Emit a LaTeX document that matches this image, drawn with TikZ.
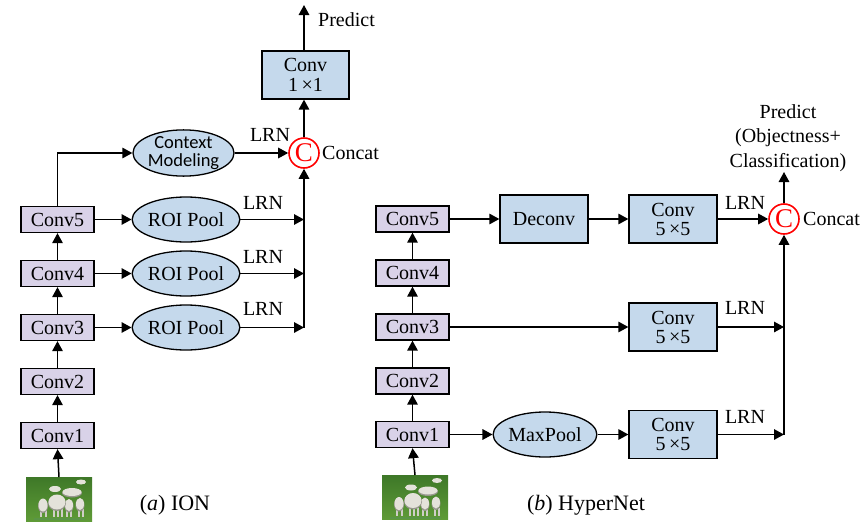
\documentclass[tikz,border=0pt]{standalone}
\usepackage{fontspec}
\setmainfont{Liberation Serif}
\newfontfamily\calfont{Carlito}
\usetikzlibrary{shapes.geometric,arrows.meta}
\definecolor{lav}{RGB}{217,210,232}
\definecolor{lblue}{RGB}{197,217,236}
\definecolor{grassA}{RGB}{62,120,40}
\definecolor{grassB}{RGB}{95,155,55}
\definecolor{wool}{RGB}{228,226,218}
\definecolor{woolshade}{RGB}{150,150,140}
\tikzset{
  sheepimg/.pic={
    \shade[top color=grassA, bottom color=grassB] (-33,-22) rectangle (33,22);
    % back sheep
    \fill[wool] (22,-17) ellipse (5 and 2.5);
    \fill[wool] (-4,-10) ellipse (6 and 3);
    \fill[woolshade] (13,-6) ellipse (10 and 4.5);
    \fill[wool] (13,-7) ellipse (9.5 and 4);
    % front sheep legs
    \foreach \lx in {-19,-14,-6,-2,2,7,11,19,23}
      \fill[wool!80!gray] (\lx,10) rectangle (\lx+1.5,18);
    \fill[woolshade] (-16,7) ellipse (5 and 7);
    \fill[wool] (-16,6) ellipse (4.5 and 6.5);
    \fill[woolshade] (21,6) ellipse (4.5 and 6.5);
    \fill[wool] (21,5) ellipse (4 and 6);
    \fill[woolshade] (10,7) ellipse (4.5 and 6.5);
    \fill[wool] (10,6) ellipse (4 and 6);
    \fill[woolshade] (-2,4) ellipse (9 and 8);
    \fill[wool] (-2,3) ellipse (8.5 and 7.5);
    \fill[black!25!green!30!gray, opacity=0.5] (-25,19) rectangle (26,21);
  }
}
\begin{document}
\begin{tikzpicture}[x=1pt,y=-1pt,
  every node/.style={font=\fontsize{20}{22}\selectfont},
  convbox/.style={draw=black, line width=1.3pt, fill=lav, minimum width=73pt, minimum height=26pt, inner sep=0pt},
  bluebox/.style={draw=black, line width=1.3pt, fill=lblue, minimum width=88pt, minimum height=48pt, align=center, inner sep=0pt, font=\fontsize{20}{19}\selectfont},
  pool/.style={ellipse, draw=black, line width=1.3pt, fill=lblue, minimum width=94pt, minimum height=45pt, inner sep=0pt},
  concat/.style={circle, draw=red, line width=1.6pt, minimum size=30pt, inner sep=0pt, text=red, font=\fontsize{27}{27}\selectfont},
  arr/.style={line width=1.5pt, -{Triangle[length=10pt,width=10.5pt]}},
  lbl/.style={inner sep=0pt},
  captext/.style={inner sep=0pt, font=\fontsize{22}{24}\selectfont}
]
\useasboundingbox (0,0) rectangle (865,530);

% ---------- (a) ION ----------
\node[convbox] (a1) at (57.5,435.5) {Conv1};
\node[convbox] (a2) at (57.5,381.5) {Conv2};
\node[convbox] (a3) at (57.5,327.5) {Conv3};
\node[convbox] (a4) at (57.5,273.5) {Conv4};
\node[convbox] (a5) at (57.5,219.5) {Conv5};
\pic at (59,499) {sheepimg};
\coordinate (img1) at (59,477);

\node[pool] (r5) at (186,219.5) {ROI Pool};
\node[pool] (r4) at (186,273.5) {ROI Pool};
\node[pool] (r3) at (186,327.5) {ROI Pool};
\node[pool, minimum width=93pt, minimum height=41pt, align=center,
      font=\calfont\fontsize{18.5}{17.5}\selectfont] (cm) at (183.5,153) {Context\\Modeling};
\node[concat] (c1) at (304,153) {C};
\node[lbl, anchor=west] (cc1) at (322,153) {Concat};
\node[bluebox, minimum width=87pt, font=\fontsize{20}{19.5}\selectfont] (k) at (305.5,75) {Conv\\1\,×1};
\coordinate (p1) at (304,5);
\node[lbl, anchor=west] (pt1) at (318,20) {Predict};

\draw[arr] (img1) -- (a1.south);
\draw[arr] (a1) -- (a2);
\draw[arr] (a2) -- (a3);
\draw[arr] (a3) -- (a4);
\draw[arr] (a4) -- (a5);
\draw[arr] (a5.north) |- (cm.west);
\draw[arr] (a5) -- (r5);
\draw[arr] (a4) -- (r4);
\draw[arr] (a3) -- (r3);
\draw[arr] (r5.east) -- (r5.east -| c1.center);
\draw[arr] (r4.east) -- (r4.east -| c1.center);
\draw[arr] (r3.east) -- (r3.east -| c1.center);
\draw[arr] (r3.east -| c1.center) -- (c1.south);
\draw[arr] (cm) -- (c1);
\draw[arr] (c1.north) -- (c1.north |- k.south);
\draw[arr] (c1.north |- k.north) -- (p1);
\node[lbl] (l0) at (270,135) {LRN};
\node[lbl] (l1) at (263,203) {LRN};
\node[lbl] (l2) at (263,257) {LRN};
\node[lbl] (l3) at (263,309) {LRN};
\node[captext] (capa) at (175,505) {(\textit{a}) ION};

% ---------- (b) HyperNet ----------
\node[convbox] (b1) at (412.5,434.5) {Conv1};
\node[convbox] (b2) at (412.5,381) {Conv2};
\node[convbox] (b3) at (412.5,327) {Conv3};
\node[convbox] (b4) at (412.5,273) {Conv4};
\node[convbox] (b5) at (412.5,219) {Conv5};
\pic at (415,497.5) {sheepimg};
\coordinate (img2) at (415,475);

\node[bluebox] (dc) at (544,219) {Deconv};
\node[bluebox] (k5) at (673,219) {Conv\\5\,×5};
\node[bluebox] (k3) at (673,327) {Conv\\5\,×5};
\node[bluebox] (k1) at (673,434.5) {Conv\\5\,×5};
\node[pool] (mp) at (545,434.5) {MaxPool};
\node[concat] (c2) at (784,219) {C};
\node[lbl, anchor=west] (cc2) at (803,219) {Concat};
\node[lbl, align=center, font=\fontsize{20}{24.5}\selectfont] (pt2) at (788,138) {Predict\\(Objectness+\\Classification)};
\coordinate (p2) at (784,172);

\draw[arr] (img2) -- (b1.south);
\draw[arr] (b1) -- (b2);
\draw[arr] (b2) -- (b3);
\draw[arr] (b3) -- (b4);
\draw[arr] (b4) -- (b5);
\draw[arr] (b5) -- (dc);
\draw[arr] (dc) -- (k5);
\draw[arr] (k5) -- (c2);
\draw[arr] (b3) -- (k3);
\draw[arr] (b1) -- (mp);
\draw[arr] (mp) -- (k1);
\draw[arr] (k3.east) -- (k3.east -| c2.center);
\draw[arr] (k1.east) -- (k1.east -| c2.center);
\draw[arr] (k1.east -| c2.center) -- (c2.south);
\draw[arr] (c2.north) -- (p2);
\node[lbl] (m1) at (745,203) {LRN};
\node[lbl] (m2) at (745,308) {LRN};
\node[lbl] (m3) at (745,417) {LRN};
\node[captext] (capb) at (586,505) {(\textit{b}) HyperNet};
\end{tikzpicture}
\end{document}
